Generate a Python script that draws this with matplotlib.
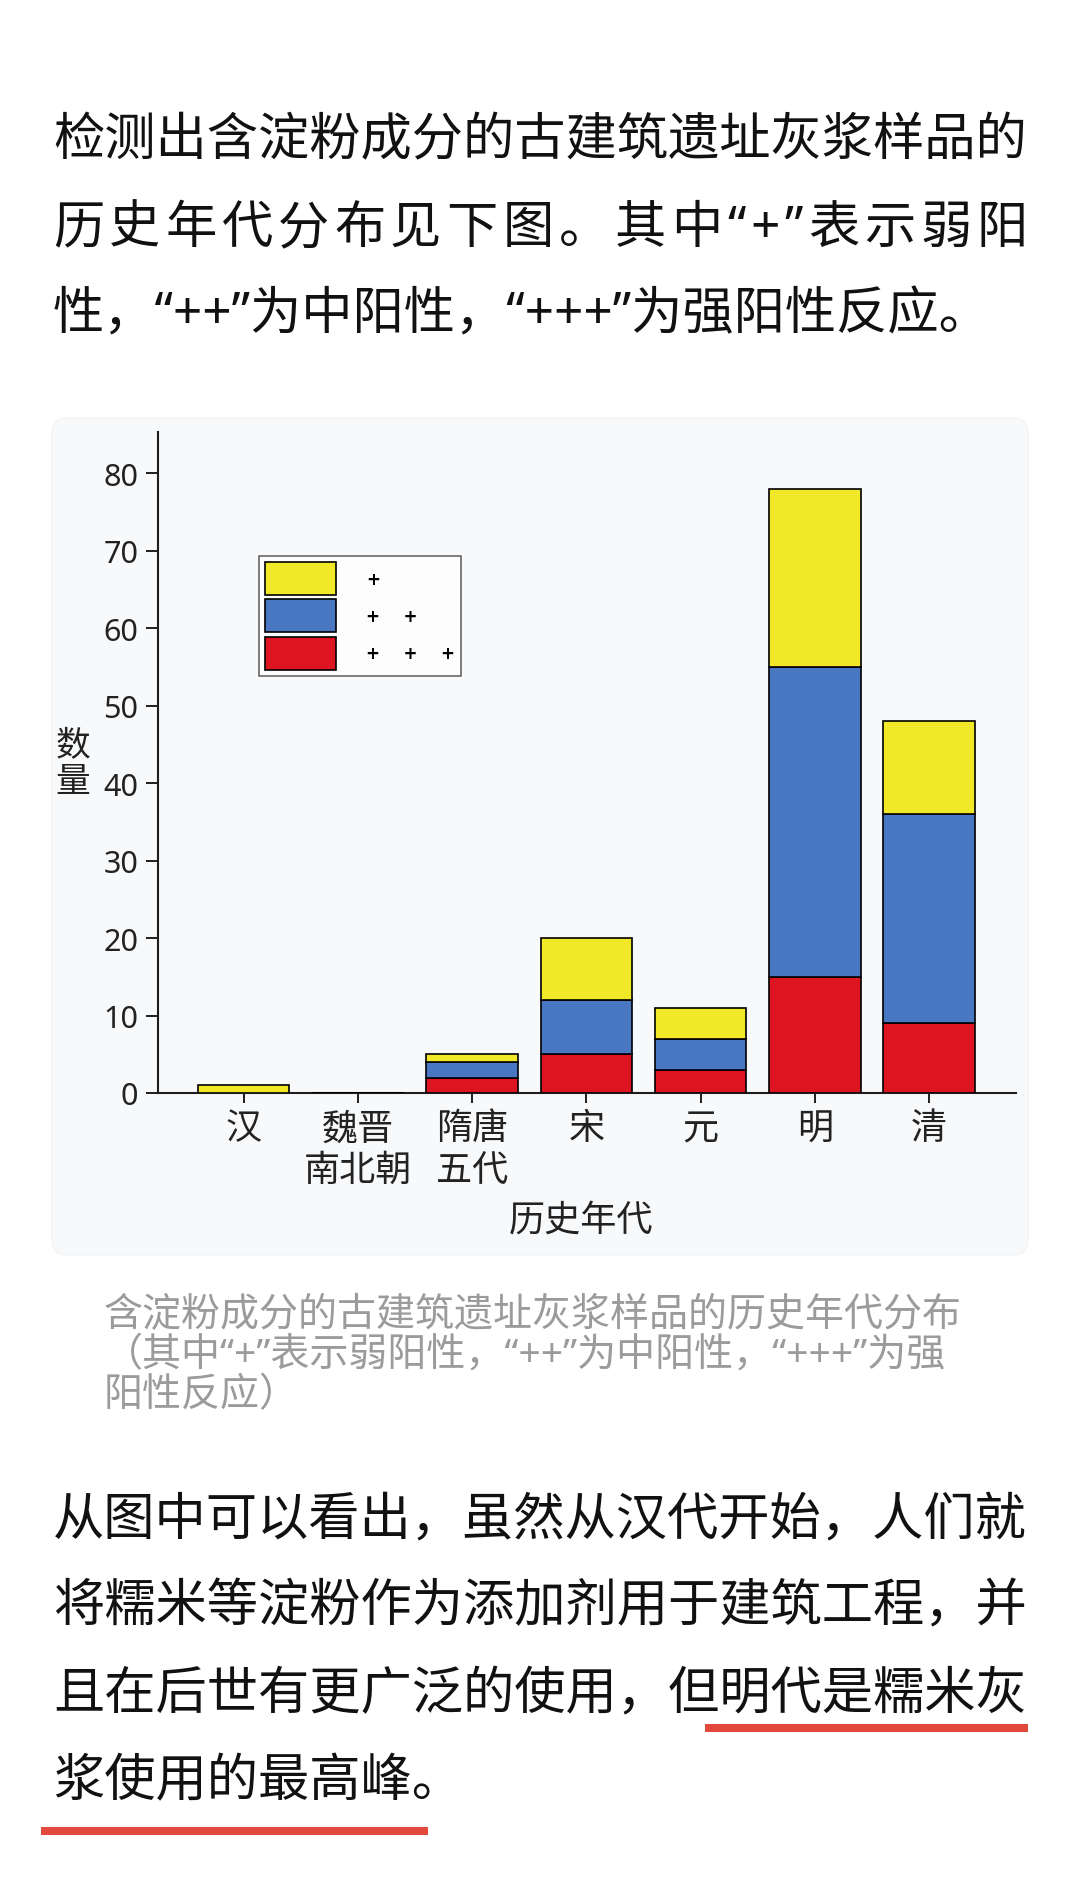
import matplotlib
matplotlib.use('Agg')
import matplotlib.pyplot as plt
from matplotlib.patches import Patch, FancyBboxPatch, Rectangle
from matplotlib.font_manager import FontProperties, findfont
from matplotlib.ft2font import FT2Font

FAMILY = ['Noto Sans', 'Noto Sans CJK SC', 'DejaVu Sans']
plt.rcParams['font.family'] = FAMILY

# ---------------- data ----------------
periods = ['汉', '魏晋\n南北朝', '隋唐\n五代', '宋', '元', '明', '清']
strong = [0, 0, 2, 5, 3, 15, 9]     # "+++"  red
medium = [0, 0, 2, 7, 4, 40, 27]    # "++"   blue
weak = [1, 0, 1, 8, 4, 23, 12]      # "+"    yellow
yticks = [0, 10, 20, 30, 40, 50, 60, 70, 80]
legend_labels = ['+', '+    +', '+    +    +']
y_label = '数\n量'
x_label = '历史年代'

intro_lines = ['检测出含淀粉成分的古建筑遗址灰浆样品的',
               '历史年代分布见下图。其中“+”表示弱阳',
               '性，“++”为中阳性，“+++”为强阳性反应。']
caption_lines = ['含淀粉成分的古建筑遗址灰浆样品的历史年代分布',
                 '（其中“+”表示弱阳性，“++”为中阳性，“+++”为强',
                 '阳性反应）']
outro_lines = ['从图中可以看出，虽然从汉代开始，人们就',
               '将糯米等淀粉作为添加剂用于建筑工程，并',
               '且在后世有更广泛的使用，但明代是糯米灰',
               '浆使用的最高峰。']

# ---------------- styles ----------------
W, H, DPI = 1080, 1890, 100
RED, BLUE, YELLOW = '#dd1520', '#4977c1', '#f1e927'
TXT = '#111111'
CAP = '#9b9b9b'
AX = '#1e1e1e'
LBL = '#222222'

fig = plt.figure(figsize=(W / DPI, H / DPI), dpi=DPI)
fig.patch.set_facecolor('white')


def fx(x):
    return x / W


def fy(y):
    return 1 - y / H


def pt(px):
    return px * 72 / DPI


LAT_PATH = findfont(FontProperties(family='Noto Sans'))
CJK_PATH = findfont(FontProperties(family='Noto Sans CJK SC'))


def advance(c, size_pt):
    use_lat = ord(c) < 0x2E80 and c not in '，。（）'
    f = FT2Font(LAT_PATH if use_lat else CJK_PATH)
    f.set_size(size_pt, DPI)
    return f.load_char(ord(c)).linearHoriAdvance / 65536


def justified(text, x_left, x_right, baseline, size_pt, color):
    advs = [advance(c, size_pt) for c in text]
    extra = (x_right - x_left - sum(advs)) / (len(text) - 1)
    xp = x_left
    for c, a in zip(text, advs):
        fig.text(fx(xp), fy(baseline), c, fontsize=size_pt, color=color,
                 va='baseline', ha='left')
        xp += a + extra


# chart panel background
panel = FancyBboxPatch((0.52, (H - 1256) / DPI), 9.76, (1256 - 419) / DPI,
                       boxstyle='round,pad=0,rounding_size=0.15',
                       transform=fig.dpi_scale_trans, facecolor='#f8f9fb',
                       edgecolor='#f1f2f4', linewidth=0.8, zorder=-5)
fig.add_artist(panel)

# ---------------- axes ----------------
ax_l, ax_r, ax_b, ax_t = 158, 1016, 1094, 433
ax = fig.add_axes([fx(ax_l), fy(ax_b), (ax_r - ax_l) / W, (ax_b - ax_t) / H])
ax.set_facecolor('none')

x = list(range(len(periods)))
bw = 0.8
edge = dict(edgecolor='black', linewidth=1.2)
bottom_mid = strong
bottom_top = [a + b for a, b in zip(strong, medium)]
ax.bar(x, strong, bw, color=RED, **edge, zorder=3)
ax.bar(x, medium, bw, bottom=bottom_mid, color=BLUE, **edge, zorder=3)
ax.bar(x, weak, bw, bottom=bottom_top, color=YELLOW, **edge, zorder=3)

ax.set_xlim(-0.75, 6.76)
ax.set_ylim(0, 85.3)

for s in ['top', 'right']:
    ax.spines[s].set_visible(False)
for s in ['left', 'bottom']:
    ax.spines[s].set_color(AX)
    ax.spines[s].set_linewidth(1.5)

ax.set_yticks(yticks)
ax.set_yticklabels([str(v) for v in yticks], fontsize=22, color=LBL)
ax.tick_params(axis='y', length=8.6, width=1.4, pad=5.5, colors=AX,
               labelcolor=LBL)
ax.set_xticks(x)
ax.set_xticklabels(periods, fontsize=26, color=LBL, linespacing=1.2)
ax.tick_params(axis='x', length=7.2, width=1.4, pad=6, colors=AX,
               labelcolor=LBL)

ax.set_ylabel(y_label, rotation=0, fontsize=25, color=LBL, va='center',
              ha='center', linespacing=1.1)
ax.yaxis.set_label_coords((73 - ax_l) / (ax_r - ax_l), (ax_b - 765) / (ax_b - ax_t))
ax.set_xlabel(x_label, fontsize=26, color=LBL, va='center', ha='center')
ax.xaxis.set_label_coords((581 - ax_l) / (ax_r - ax_l), -(1222 - ax_b) / (ax_b - ax_t))

# legend
handles = [Patch(facecolor=YELLOW, edgecolor='black', linewidth=1.2),
           Patch(facecolor=BLUE, edgecolor='black', linewidth=1.2),
           Patch(facecolor=RED, edgecolor='black', linewidth=1.2)]
fs_leg_px = 16.7
leg = ax.legend(handles, legend_labels, loc='upper left',
                bbox_to_anchor=((259 - ax_l) / (ax_r - ax_l), (ax_b - 557) / (ax_b - ax_t)),
                borderaxespad=0, frameon=True, fancybox=False,
                prop=dict(family='DejaVu Sans', weight='bold', size=pt(fs_leg_px)),
                handlelength=71 / fs_leg_px, handleheight=2.66,
                labelspacing=4.5 / fs_leg_px, borderpad=6 / fs_leg_px,
                handletextpad=30 / fs_leg_px)
leg.get_frame().set_edgecolor('#333333')
leg.get_frame().set_linewidth(1.1)
leg.get_frame().set_facecolor('white')

# ---------------- paragraph text ----------------
body_pt = pt(51.3)
x0, xr = 53, 1028
# intro
fig.text(fx(x0), fy(155), intro_lines[0], fontsize=body_pt, color=TXT,
         va='baseline', ha='left')
justified(intro_lines[1], x0, xr, 243, body_pt, TXT)
fig.text(fx(x0), fy(330), intro_lines[2], fontsize=body_pt, color=TXT,
         va='baseline', ha='left')

# caption
cap_pt = pt(39)
for i, line in enumerate(caption_lines):
    fig.text(fx(104), fy(1326 + i * 40), line, fontsize=cap_pt, color=CAP,
             va='baseline', ha='left')

# outro
for i, line in enumerate(outro_lines):
    fig.text(fx(x0), fy(1535 + i * 87), line, fontsize=body_pt, color=TXT,
             va='baseline', ha='left')

# red underlines
UL = '#e2483b'
for (xa, xb, yc) in [(705, 1028, 1729), (41, 428, 1832)]:
    fig.add_artist(Rectangle((fx(xa), fy(yc + 4)), (xb - xa) / W, 8 / H,
                             transform=fig.transFigure, facecolor=UL,
                             edgecolor='none'))

fig.savefig('out.png', dpi=DPI, facecolor='white')
